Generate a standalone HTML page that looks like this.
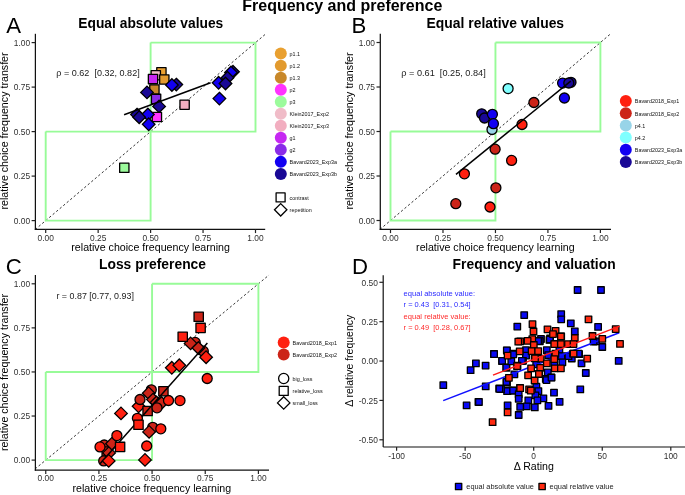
<!DOCTYPE html>
<html><head><meta charset="utf-8"><style>html,body{margin:0;padding:0;background:#fff;width:685px;height:495px;overflow:hidden}svg{display:block;will-change:transform}</style></head><body>
<svg width="685" height="495" viewBox="0 0 685 495" font-family='"Liberation Sans", sans-serif'>
<rect width="685" height="495" fill="#fff"/>
<text x="242.30" y="11.40" font-size="16.2" fill="#000" text-anchor="start" font-weight="bold" textLength="200.00" lengthAdjust="spacingAndGlyphs">Frequency and preference</text>
<line x1="35.21" y1="229.50" x2="265.99" y2="33.70" stroke="#333" stroke-width="1.0" stroke-dasharray="2.3 2.3"/>
<polyline points="45.70,131.60 45.70,220.60 150.60,220.60 150.60,131.60 45.70,131.60" stroke="#98FB98" stroke-width="1.9" fill="none"/>
<polyline points="150.60,42.60 255.50,42.60 255.50,131.60 150.60,131.60 150.60,42.60" stroke="#98FB98" stroke-width="1.9" fill="none"/>
<line x1="35.40" y1="33.80" x2="35.40" y2="229.90" stroke="#111111" stroke-width="1.25"/>
<line x1="34.80" y1="229.30" x2="265.20" y2="229.30" stroke="#111111" stroke-width="1.25"/>
<line x1="31.60" y1="220.60" x2="35.40" y2="220.60" stroke="#222222" stroke-width="1.2"/>
<text x="30.10" y="223.90" font-size="8.4" fill="#303030" text-anchor="end">0.00</text>
<line x1="45.70" y1="229.30" x2="45.70" y2="233.10" stroke="#222222" stroke-width="1.2"/>
<text x="45.70" y="240.60" font-size="8.4" fill="#303030" text-anchor="middle">0.00</text>
<line x1="31.60" y1="176.10" x2="35.40" y2="176.10" stroke="#222222" stroke-width="1.2"/>
<text x="30.10" y="179.40" font-size="8.4" fill="#303030" text-anchor="end">0.25</text>
<line x1="98.15" y1="229.30" x2="98.15" y2="233.10" stroke="#222222" stroke-width="1.2"/>
<text x="98.15" y="240.60" font-size="8.4" fill="#303030" text-anchor="middle">0.25</text>
<line x1="31.60" y1="131.60" x2="35.40" y2="131.60" stroke="#222222" stroke-width="1.2"/>
<text x="30.10" y="134.90" font-size="8.4" fill="#303030" text-anchor="end">0.50</text>
<line x1="150.60" y1="229.30" x2="150.60" y2="233.10" stroke="#222222" stroke-width="1.2"/>
<text x="150.60" y="240.60" font-size="8.4" fill="#303030" text-anchor="middle">0.50</text>
<line x1="31.60" y1="87.10" x2="35.40" y2="87.10" stroke="#222222" stroke-width="1.2"/>
<text x="30.10" y="90.40" font-size="8.4" fill="#303030" text-anchor="end">0.75</text>
<line x1="203.05" y1="229.30" x2="203.05" y2="233.10" stroke="#222222" stroke-width="1.2"/>
<text x="203.05" y="240.60" font-size="8.4" fill="#303030" text-anchor="middle">0.75</text>
<line x1="31.60" y1="42.60" x2="35.40" y2="42.60" stroke="#222222" stroke-width="1.2"/>
<text x="30.10" y="45.90" font-size="8.4" fill="#303030" text-anchor="end">1.00</text>
<line x1="255.50" y1="229.30" x2="255.50" y2="233.10" stroke="#222222" stroke-width="1.2"/>
<text x="255.50" y="240.60" font-size="8.4" fill="#303030" text-anchor="middle">1.00</text>
<text x="78.30" y="28.00" font-size="14.4" fill="#000" text-anchor="start" font-weight="bold" textLength="145.00" lengthAdjust="spacingAndGlyphs">Equal absolute values</text>
<text x="6.30" y="32.90" font-size="22.2" fill="#000" text-anchor="start">A</text>
<text x="150.60" y="251.30" font-size="10.6" fill="#000" text-anchor="middle" textLength="158.60" lengthAdjust="spacingAndGlyphs">relative choice frequency learning</text>
<text x="7.90" y="131.00" font-size="10.6" fill="#000" text-anchor="middle" textLength="157.20" lengthAdjust="spacingAndGlyphs" transform="rotate(-90 7.90 131.00)">relative choice frequency transfer</text>
<rect x="119.65" y="163.15" width="9.30" height="9.30" fill="#9CFB9C" stroke="#000" stroke-width="1.3" stroke-linejoin="round"/>
<rect x="156.75" y="67.65" width="9.30" height="9.30" fill="#E9A030" stroke="#000" stroke-width="1.3" stroke-linejoin="round"/>
<rect x="151.15" y="70.55" width="9.30" height="9.30" fill="#F0BCC8" stroke="#000" stroke-width="1.3" stroke-linejoin="round"/>
<rect x="159.65" y="74.85" width="9.30" height="9.30" fill="#E29A2E" stroke="#000" stroke-width="1.3" stroke-linejoin="round"/>
<rect x="148.35" y="74.45" width="9.30" height="9.30" fill="#C628F2" stroke="#000" stroke-width="1.3" stroke-linejoin="round"/>
<rect x="149.75" y="84.85" width="9.30" height="9.30" fill="#C8882A" stroke="#000" stroke-width="1.3" stroke-linejoin="round"/>
<polygon points="147.00,86.10 153.30,92.40 147.00,98.70 140.70,92.40" fill="#190896" stroke="#000" stroke-width="1.3" stroke-linejoin="miter"/>
<polygon points="176.30,78.30 182.60,84.60 176.30,90.90 170.00,84.60" fill="#190896" stroke="#000" stroke-width="1.3" stroke-linejoin="miter"/>
<polygon points="171.90,78.70 178.20,85.00 171.90,91.30 165.60,85.00" fill="#1200F2" stroke="#000" stroke-width="1.3" stroke-linejoin="miter"/>
<rect x="151.45" y="94.25" width="9.30" height="9.30" fill="#8A2BE8" stroke="#000" stroke-width="1.3" stroke-linejoin="round"/>
<polygon points="159.10,100.10 165.40,106.40 159.10,112.70 152.80,106.40" fill="#190896" stroke="#000" stroke-width="1.3" stroke-linejoin="miter"/>
<rect x="179.95" y="100.05" width="9.30" height="9.30" fill="#F2AEC0" stroke="#000" stroke-width="1.3" stroke-linejoin="round"/>
<rect x="152.25" y="112.35" width="9.30" height="9.30" fill="#FF33FF" stroke="#000" stroke-width="1.3" stroke-linejoin="round"/>
<polygon points="137.00,108.30 143.30,114.60 137.00,120.90 130.70,114.60" fill="#190896" stroke="#000" stroke-width="1.3" stroke-linejoin="miter"/>
<polygon points="147.90,108.20 154.20,114.50 147.90,120.80 141.60,114.50" fill="#1200F2" stroke="#000" stroke-width="1.3" stroke-linejoin="miter"/>
<polygon points="139.20,110.90 145.50,117.20 139.20,123.50 132.90,117.20" fill="#190896" stroke="#000" stroke-width="1.3" stroke-linejoin="miter"/>
<polygon points="148.70,118.00 155.00,124.30 148.70,130.60 142.40,124.30" fill="#1200F2" stroke="#000" stroke-width="1.3" stroke-linejoin="miter"/>
<polygon points="233.00,65.50 239.30,71.80 233.00,78.10 226.70,71.80" fill="#190896" stroke="#000" stroke-width="1.3" stroke-linejoin="miter"/>
<polygon points="231.00,66.20 237.30,72.50 231.00,78.80 224.70,72.50" fill="#1200F2" stroke="#000" stroke-width="1.3" stroke-linejoin="miter"/>
<polygon points="227.50,71.50 233.80,77.80 227.50,84.10 221.20,77.80" fill="#190896" stroke="#000" stroke-width="1.3" stroke-linejoin="miter"/>
<polygon points="218.60,76.50 224.90,82.80 218.60,89.10 212.30,82.80" fill="#1200F2" stroke="#000" stroke-width="1.3" stroke-linejoin="miter"/>
<polygon points="225.50,77.20 231.80,83.50 225.50,89.80 219.20,83.50" fill="#190896" stroke="#000" stroke-width="1.3" stroke-linejoin="miter"/>
<polygon points="219.40,92.30 225.70,98.60 219.40,104.90 213.10,98.60" fill="#1200F2" stroke="#000" stroke-width="1.3" stroke-linejoin="miter"/>
<line x1="124.10" y1="114.70" x2="210.60" y2="82.80" stroke="#000" stroke-width="1.5"/>
<text x="56.30" y="76.00" font-size="8.6" fill="#1a1a1a" text-anchor="start" textLength="83.40" lengthAdjust="spacingAndGlyphs">ρ = 0.62  [0.32, 0.82]</text>
<circle cx="280.8" cy="53.60" r="6.0" fill="#E9A030"/>
<text x="289.60" y="56.00" font-size="6.0" fill="#111" text-anchor="start" textLength="10.51" lengthAdjust="spacingAndGlyphs">p1.1</text>
<circle cx="280.8" cy="65.63" r="6.0" fill="#E29A2E"/>
<text x="289.60" y="68.03" font-size="6.0" fill="#111" text-anchor="start" textLength="10.51" lengthAdjust="spacingAndGlyphs">p1.2</text>
<circle cx="280.8" cy="77.66" r="6.0" fill="#C8882A"/>
<text x="289.60" y="80.06" font-size="6.0" fill="#111" text-anchor="start" textLength="10.51" lengthAdjust="spacingAndGlyphs">p1.3</text>
<circle cx="280.8" cy="89.69" r="6.0" fill="#FF33FF"/>
<text x="289.60" y="92.09" font-size="6.0" fill="#111" text-anchor="start" textLength="6.01" lengthAdjust="spacingAndGlyphs">p2</text>
<circle cx="280.8" cy="101.72" r="6.0" fill="#9CFB9C"/>
<text x="289.60" y="104.12" font-size="6.0" fill="#111" text-anchor="start" textLength="6.01" lengthAdjust="spacingAndGlyphs">p3</text>
<circle cx="280.8" cy="113.75" r="6.0" fill="#F0BCC8"/>
<text x="289.60" y="116.15" font-size="6.0" fill="#111" text-anchor="start" textLength="39.33" lengthAdjust="spacingAndGlyphs">Klein2017_Exp2</text>
<circle cx="280.8" cy="125.78" r="6.0" fill="#F2AEC0"/>
<text x="289.60" y="128.18" font-size="6.0" fill="#111" text-anchor="start" textLength="39.33" lengthAdjust="spacingAndGlyphs">Klein2017_Exp3</text>
<circle cx="280.8" cy="137.81" r="6.0" fill="#C628F2"/>
<text x="289.60" y="140.21" font-size="6.0" fill="#111" text-anchor="start" textLength="6.01" lengthAdjust="spacingAndGlyphs">g1</text>
<circle cx="280.8" cy="149.84" r="6.0" fill="#8A2BE8"/>
<text x="289.60" y="152.24" font-size="6.0" fill="#111" text-anchor="start" textLength="6.01" lengthAdjust="spacingAndGlyphs">g2</text>
<circle cx="280.8" cy="161.87" r="6.0" fill="#1200F2"/>
<text x="289.60" y="164.27" font-size="6.0" fill="#111" text-anchor="start" textLength="47.44" lengthAdjust="spacingAndGlyphs">Bavard2023_Exp3a</text>
<circle cx="280.8" cy="173.90" r="6.0" fill="#190896"/>
<text x="289.60" y="176.30" font-size="6.0" fill="#111" text-anchor="start" textLength="47.44" lengthAdjust="spacingAndGlyphs">Bavard2023_Exp3b</text>
<rect x="276.10" y="192.90" width="9.00" height="9.00" fill="#fff" stroke="#000" stroke-width="1.3" stroke-linejoin="round"/>
<polygon points="280.70,203.60 286.90,209.80 280.70,216.00 274.50,209.80" fill="#fff" stroke="#000" stroke-width="1.3" stroke-linejoin="miter"/>
<text x="289.60" y="199.80" font-size="6.0" fill="#111" text-anchor="start" textLength="19.21" lengthAdjust="spacingAndGlyphs">contrast</text>
<text x="289.60" y="212.00" font-size="6.0" fill="#111" text-anchor="start" textLength="22.21" lengthAdjust="spacingAndGlyphs">repetition</text>
<line x1="380.00" y1="229.40" x2="610.89" y2="33.60" stroke="#333" stroke-width="1.0" stroke-dasharray="2.3 2.3"/>
<polyline points="390.50,131.50 390.50,220.50 495.45,220.50 495.45,131.50 390.50,131.50" stroke="#98FB98" stroke-width="1.9" fill="none"/>
<polyline points="495.45,42.50 600.40,42.50 600.40,131.50 495.45,131.50 495.45,42.50" stroke="#98FB98" stroke-width="1.9" fill="none"/>
<line x1="380.30" y1="33.80" x2="380.30" y2="229.90" stroke="#111111" stroke-width="1.25"/>
<line x1="379.70" y1="229.30" x2="611.00" y2="229.30" stroke="#111111" stroke-width="1.25"/>
<line x1="376.50" y1="220.50" x2="380.30" y2="220.50" stroke="#222222" stroke-width="1.2"/>
<text x="375.00" y="223.80" font-size="8.4" fill="#303030" text-anchor="end">0.00</text>
<line x1="390.50" y1="229.30" x2="390.50" y2="233.10" stroke="#222222" stroke-width="1.2"/>
<text x="390.50" y="240.60" font-size="8.4" fill="#303030" text-anchor="middle">0.00</text>
<line x1="376.50" y1="176.00" x2="380.30" y2="176.00" stroke="#222222" stroke-width="1.2"/>
<text x="375.00" y="179.30" font-size="8.4" fill="#303030" text-anchor="end">0.25</text>
<line x1="442.98" y1="229.30" x2="442.98" y2="233.10" stroke="#222222" stroke-width="1.2"/>
<text x="442.98" y="240.60" font-size="8.4" fill="#303030" text-anchor="middle">0.25</text>
<line x1="376.50" y1="131.50" x2="380.30" y2="131.50" stroke="#222222" stroke-width="1.2"/>
<text x="375.00" y="134.80" font-size="8.4" fill="#303030" text-anchor="end">0.50</text>
<line x1="495.45" y1="229.30" x2="495.45" y2="233.10" stroke="#222222" stroke-width="1.2"/>
<text x="495.45" y="240.60" font-size="8.4" fill="#303030" text-anchor="middle">0.50</text>
<line x1="376.50" y1="87.00" x2="380.30" y2="87.00" stroke="#222222" stroke-width="1.2"/>
<text x="375.00" y="90.30" font-size="8.4" fill="#303030" text-anchor="end">0.75</text>
<line x1="547.92" y1="229.30" x2="547.92" y2="233.10" stroke="#222222" stroke-width="1.2"/>
<text x="547.92" y="240.60" font-size="8.4" fill="#303030" text-anchor="middle">0.75</text>
<line x1="376.50" y1="42.50" x2="380.30" y2="42.50" stroke="#222222" stroke-width="1.2"/>
<text x="375.00" y="45.80" font-size="8.4" fill="#303030" text-anchor="end">1.00</text>
<line x1="600.40" y1="229.30" x2="600.40" y2="233.10" stroke="#222222" stroke-width="1.2"/>
<text x="600.40" y="240.60" font-size="8.4" fill="#303030" text-anchor="middle">1.00</text>
<text x="426.60" y="28.00" font-size="14.4" fill="#000" text-anchor="start" font-weight="bold" textLength="137.50" lengthAdjust="spacingAndGlyphs">Equal relative values</text>
<text x="351.50" y="32.90" font-size="22.2" fill="#000" text-anchor="start">B</text>
<text x="495.40" y="251.30" font-size="10.6" fill="#000" text-anchor="middle" textLength="158.60" lengthAdjust="spacingAndGlyphs">relative choice frequency learning</text>
<text x="352.90" y="131.00" font-size="10.6" fill="#000" text-anchor="middle" textLength="157.20" lengthAdjust="spacingAndGlyphs" transform="rotate(-90 352.90 131.00)">relative choice frequency transfer</text>
<circle cx="492.00" cy="129.50" r="5.00" fill="#98D4E8" stroke="#000" stroke-width="1.3"/>
<circle cx="508.10" cy="88.60" r="5.00" fill="#80FFFF" stroke="#000" stroke-width="1.3"/>
<circle cx="481.70" cy="113.80" r="5.00" fill="#190896" stroke="#000" stroke-width="1.3"/>
<circle cx="484.50" cy="118.00" r="5.00" fill="#190896" stroke="#000" stroke-width="1.3"/>
<circle cx="492.40" cy="114.30" r="5.00" fill="#1200F2" stroke="#000" stroke-width="1.3"/>
<circle cx="493.40" cy="123.70" r="5.00" fill="#1200F2" stroke="#000" stroke-width="1.3"/>
<circle cx="455.80" cy="203.70" r="5.00" fill="#CC2418" stroke="#000" stroke-width="1.3"/>
<circle cx="464.40" cy="173.80" r="5.00" fill="#FF2010" stroke="#000" stroke-width="1.3"/>
<circle cx="490.00" cy="207.00" r="5.00" fill="#FF2010" stroke="#000" stroke-width="1.3"/>
<circle cx="495.10" cy="149.20" r="5.00" fill="#CC2418" stroke="#000" stroke-width="1.3"/>
<circle cx="495.90" cy="187.80" r="5.00" fill="#CC2418" stroke="#000" stroke-width="1.3"/>
<circle cx="511.60" cy="160.40" r="5.00" fill="#FF2010" stroke="#000" stroke-width="1.3"/>
<circle cx="522.00" cy="124.50" r="5.00" fill="#FF2010" stroke="#000" stroke-width="1.3"/>
<circle cx="533.90" cy="102.50" r="5.00" fill="#CC2418" stroke="#000" stroke-width="1.3"/>
<circle cx="562.60" cy="83.10" r="5.00" fill="#1200F2" stroke="#000" stroke-width="1.3"/>
<circle cx="571.00" cy="82.30" r="5.00" fill="#190896" stroke="#000" stroke-width="1.3"/>
<circle cx="568.80" cy="83.00" r="5.00" fill="#190896" stroke="#000" stroke-width="1.3"/>
<circle cx="564.40" cy="98.00" r="5.00" fill="#1200F2" stroke="#000" stroke-width="1.3"/>
<line x1="456.00" y1="174.30" x2="570.70" y2="81.20" stroke="#000" stroke-width="1.5"/>
<text x="401.30" y="76.00" font-size="8.6" fill="#1a1a1a" text-anchor="start" textLength="84.40" lengthAdjust="spacingAndGlyphs">ρ = 0.61  [0.25, 0.84]</text>
<circle cx="625.8" cy="101.00" r="6.0" fill="#FF2010"/>
<text x="634.80" y="103.40" font-size="6.0" fill="#111" text-anchor="start" textLength="44.43" lengthAdjust="spacingAndGlyphs">Bavard2018_Exp1</text>
<circle cx="625.8" cy="113.20" r="6.0" fill="#CC2418"/>
<text x="634.80" y="115.60" font-size="6.0" fill="#111" text-anchor="start" textLength="44.43" lengthAdjust="spacingAndGlyphs">Bavard2018_Exp2</text>
<circle cx="625.8" cy="125.40" r="6.0" fill="#98D4E8"/>
<text x="634.80" y="127.80" font-size="6.0" fill="#111" text-anchor="start" textLength="10.51" lengthAdjust="spacingAndGlyphs">p4.1</text>
<circle cx="625.8" cy="137.60" r="6.0" fill="#80FFFF"/>
<text x="634.80" y="140.00" font-size="6.0" fill="#111" text-anchor="start" textLength="10.51" lengthAdjust="spacingAndGlyphs">p4.2</text>
<circle cx="625.8" cy="149.80" r="6.0" fill="#1200F2"/>
<text x="634.80" y="152.20" font-size="6.0" fill="#111" text-anchor="start" textLength="47.44" lengthAdjust="spacingAndGlyphs">Bavard2023_Exp3a</text>
<circle cx="625.8" cy="162.00" r="6.0" fill="#190896"/>
<text x="634.80" y="164.40" font-size="6.0" fill="#111" text-anchor="start" textLength="47.44" lengthAdjust="spacingAndGlyphs">Bavard2023_Exp3b</text>
<line x1="35.12" y1="468.92" x2="269.03" y2="274.99" stroke="#333" stroke-width="1.0" stroke-dasharray="2.3 2.3"/>
<polyline points="45.75,371.95 45.75,460.10 152.07,460.10 152.07,371.95 45.75,371.95" stroke="#98FB98" stroke-width="1.9" fill="none"/>
<polyline points="152.07,283.80 258.40,283.80 258.40,371.95 152.07,371.95 152.07,283.80" stroke="#98FB98" stroke-width="1.9" fill="none"/>
<line x1="35.40" y1="275.00" x2="35.40" y2="470.70" stroke="#111111" stroke-width="1.25"/>
<line x1="34.80" y1="470.10" x2="269.00" y2="470.10" stroke="#111111" stroke-width="1.25"/>
<line x1="31.60" y1="460.10" x2="35.40" y2="460.10" stroke="#222222" stroke-width="1.2"/>
<text x="30.10" y="463.40" font-size="8.4" fill="#303030" text-anchor="end">0.00</text>
<line x1="45.75" y1="470.10" x2="45.75" y2="473.90" stroke="#222222" stroke-width="1.2"/>
<text x="45.75" y="481.40" font-size="8.4" fill="#303030" text-anchor="middle">0.00</text>
<line x1="31.60" y1="416.03" x2="35.40" y2="416.03" stroke="#222222" stroke-width="1.2"/>
<text x="30.10" y="419.33" font-size="8.4" fill="#303030" text-anchor="end">0.25</text>
<line x1="98.91" y1="470.10" x2="98.91" y2="473.90" stroke="#222222" stroke-width="1.2"/>
<text x="98.91" y="481.40" font-size="8.4" fill="#303030" text-anchor="middle">0.25</text>
<line x1="31.60" y1="371.95" x2="35.40" y2="371.95" stroke="#222222" stroke-width="1.2"/>
<text x="30.10" y="375.25" font-size="8.4" fill="#303030" text-anchor="end">0.50</text>
<line x1="152.07" y1="470.10" x2="152.07" y2="473.90" stroke="#222222" stroke-width="1.2"/>
<text x="152.07" y="481.40" font-size="8.4" fill="#303030" text-anchor="middle">0.50</text>
<line x1="31.60" y1="327.88" x2="35.40" y2="327.88" stroke="#222222" stroke-width="1.2"/>
<text x="30.10" y="331.18" font-size="8.4" fill="#303030" text-anchor="end">0.75</text>
<line x1="205.24" y1="470.10" x2="205.24" y2="473.90" stroke="#222222" stroke-width="1.2"/>
<text x="205.24" y="481.40" font-size="8.4" fill="#303030" text-anchor="middle">0.75</text>
<line x1="31.60" y1="283.80" x2="35.40" y2="283.80" stroke="#222222" stroke-width="1.2"/>
<text x="30.10" y="287.10" font-size="8.4" fill="#303030" text-anchor="end">1.00</text>
<line x1="258.40" y1="470.10" x2="258.40" y2="473.90" stroke="#222222" stroke-width="1.2"/>
<text x="258.40" y="481.40" font-size="8.4" fill="#303030" text-anchor="middle">1.00</text>
<text x="99.00" y="268.70" font-size="14.4" fill="#000" text-anchor="start" font-weight="bold" textLength="107.00" lengthAdjust="spacingAndGlyphs">Loss preference</text>
<text x="5.80" y="273.60" font-size="22.2" fill="#000" text-anchor="start">C</text>
<text x="151.80" y="491.50" font-size="10.6" fill="#000" text-anchor="middle" textLength="158.60" lengthAdjust="spacingAndGlyphs">relative choice frequency learning</text>
<text x="7.90" y="372.50" font-size="10.6" fill="#000" text-anchor="middle" textLength="157.20" lengthAdjust="spacingAndGlyphs" transform="rotate(-90 7.90 372.50)">relative choice frequency transfer</text>
<polygon points="138.60,400.00 144.90,406.30 138.60,412.60 132.30,406.30" fill="#FF2010" stroke="#000" stroke-width="1.3" stroke-linejoin="miter"/>
<circle cx="104.20" cy="445.00" r="5.00" fill="#CC2418" stroke="#000" stroke-width="1.3"/>
<rect x="102.05" y="446.85" width="9.30" height="9.30" fill="#CC2418" stroke="#000" stroke-width="1.3" stroke-linejoin="round"/>
<polygon points="109.10,446.60 115.40,452.90 109.10,459.20 102.80,452.90" fill="#CC2418" stroke="#000" stroke-width="1.3" stroke-linejoin="miter"/>
<circle cx="103.70" cy="460.90" r="5.00" fill="#CC2418" stroke="#000" stroke-width="1.3"/>
<polygon points="112.00,437.40 118.30,443.70 112.00,450.00 105.70,443.70" fill="#CC2418" stroke="#000" stroke-width="1.3" stroke-linejoin="miter"/>
<circle cx="140.00" cy="399.50" r="5.00" fill="#CC2418" stroke="#000" stroke-width="1.3"/>
<rect x="142.95" y="406.35" width="9.30" height="9.30" fill="#CC2418" stroke="#000" stroke-width="1.3" stroke-linejoin="round"/>
<circle cx="151.30" cy="389.80" r="5.00" fill="#CC2418" stroke="#000" stroke-width="1.3"/>
<polygon points="148.70,386.90 155.00,393.20 148.70,399.50 142.40,393.20" fill="#CC2418" stroke="#000" stroke-width="1.3" stroke-linejoin="miter"/>
<polygon points="153.00,393.30 159.30,399.60 153.00,405.90 146.70,399.60" fill="#CC2418" stroke="#000" stroke-width="1.3" stroke-linejoin="miter"/>
<polygon points="156.50,396.20 162.80,402.50 156.50,408.80 150.20,402.50" fill="#CC2418" stroke="#000" stroke-width="1.3" stroke-linejoin="miter"/>
<rect x="158.75" y="386.55" width="9.30" height="9.30" fill="#CC2418" stroke="#000" stroke-width="1.3" stroke-linejoin="round"/>
<polygon points="161.50,396.70 167.80,403.00 161.50,409.30 155.20,403.00" fill="#CC2418" stroke="#000" stroke-width="1.3" stroke-linejoin="miter"/>
<circle cx="157.00" cy="407.80" r="5.00" fill="#CC2418" stroke="#000" stroke-width="1.3"/>
<circle cx="152.70" cy="427.30" r="5.00" fill="#CC2418" stroke="#000" stroke-width="1.3"/>
<polygon points="149.10,425.60 155.40,431.90 149.10,438.20 142.80,431.90" fill="#CC2418" stroke="#000" stroke-width="1.3" stroke-linejoin="miter"/>
<rect x="194.05" y="312.15" width="9.30" height="9.30" fill="#CC2418" stroke="#000" stroke-width="1.3" stroke-linejoin="round"/>
<circle cx="195.20" cy="342.40" r="5.00" fill="#CC2418" stroke="#000" stroke-width="1.3"/>
<polygon points="190.60,337.10 196.90,343.40 190.60,349.70 184.30,343.40" fill="#CC2418" stroke="#000" stroke-width="1.3" stroke-linejoin="miter"/>
<circle cx="203.30" cy="351.20" r="5.00" fill="#CC2418" stroke="#000" stroke-width="1.3"/>
<polygon points="198.40,341.70 204.70,348.00 198.40,354.30 192.10,348.00" fill="#CC2418" stroke="#000" stroke-width="1.3" stroke-linejoin="miter"/>
<line x1="100.00" y1="463.70" x2="207.40" y2="343.10" stroke="#000" stroke-width="1.5"/>
<circle cx="100.00" cy="446.90" r="5.00" fill="#FF2010" stroke="#000" stroke-width="1.3"/>
<polygon points="108.70,454.60 115.00,460.90 108.70,467.20 102.40,460.90" fill="#FF2010" stroke="#000" stroke-width="1.3" stroke-linejoin="miter"/>
<circle cx="116.90" cy="435.60" r="5.00" fill="#FF2010" stroke="#000" stroke-width="1.3"/>
<rect x="115.45" y="442.25" width="9.30" height="9.30" fill="#FF2010" stroke="#000" stroke-width="1.3" stroke-linejoin="round"/>
<polygon points="121.00,407.10 127.30,413.40 121.00,419.70 114.70,413.40" fill="#FF2010" stroke="#000" stroke-width="1.3" stroke-linejoin="miter"/>
<circle cx="137.40" cy="418.30" r="5.00" fill="#FF2010" stroke="#000" stroke-width="1.3"/>
<rect x="133.85" y="420.15" width="9.30" height="9.30" fill="#FF2010" stroke="#000" stroke-width="1.3" stroke-linejoin="round"/>
<circle cx="168.50" cy="400.50" r="5.00" fill="#FF2010" stroke="#000" stroke-width="1.3"/>
<circle cx="180.00" cy="400.60" r="5.00" fill="#FF2010" stroke="#000" stroke-width="1.3"/>
<circle cx="160.80" cy="428.80" r="5.00" fill="#FF2010" stroke="#000" stroke-width="1.3"/>
<circle cx="146.70" cy="446.00" r="5.00" fill="#FF2010" stroke="#000" stroke-width="1.3"/>
<polygon points="145.00,453.60 151.30,459.90 145.00,466.20 138.70,459.90" fill="#FF2010" stroke="#000" stroke-width="1.3" stroke-linejoin="miter"/>
<polygon points="171.80,361.50 178.10,367.80 171.80,374.10 165.50,367.80" fill="#FF2010" stroke="#000" stroke-width="1.3" stroke-linejoin="miter"/>
<polygon points="179.30,359.00 185.60,365.30 179.30,371.60 173.00,365.30" fill="#FF2010" stroke="#000" stroke-width="1.3" stroke-linejoin="miter"/>
<rect x="195.95" y="323.25" width="9.30" height="9.30" fill="#FF2010" stroke="#000" stroke-width="1.3" stroke-linejoin="round"/>
<rect x="178.05" y="332.15" width="9.30" height="9.30" fill="#FF2010" stroke="#000" stroke-width="1.3" stroke-linejoin="round"/>
<polygon points="206.10,350.90 212.40,357.20 206.10,363.50 199.80,357.20" fill="#FF2010" stroke="#000" stroke-width="1.3" stroke-linejoin="miter"/>
<circle cx="207.20" cy="378.50" r="5.00" fill="#FF2010" stroke="#000" stroke-width="1.3"/>
<text x="56.40" y="299.20" font-size="8.6" fill="#1a1a1a" text-anchor="start" textLength="77.50" lengthAdjust="spacingAndGlyphs">r = 0.87 [0.77, 0.93]</text>
<circle cx="283.7" cy="342.60" r="6.0" fill="#FF2010"/>
<text x="292.60" y="345.00" font-size="6.0" fill="#111" text-anchor="start" textLength="44.43" lengthAdjust="spacingAndGlyphs">Bavard2018_Exp1</text>
<circle cx="283.7" cy="354.60" r="6.0" fill="#CC2418"/>
<text x="292.60" y="357.00" font-size="6.0" fill="#111" text-anchor="start" textLength="44.43" lengthAdjust="spacingAndGlyphs">Bavard2018_Exp2</text>
<circle cx="283.70" cy="378.50" r="5.10" fill="#fff" stroke="#000" stroke-width="1.3"/>
<rect x="279.20" y="386.40" width="9.00" height="9.00" fill="#fff" stroke="#000" stroke-width="1.3" stroke-linejoin="round"/>
<polygon points="283.70,396.70 289.90,402.90 283.70,409.10 277.50,402.90" fill="#fff" stroke="#000" stroke-width="1.3" stroke-linejoin="miter"/>
<text x="292.60" y="380.80" font-size="6.0" fill="#111" text-anchor="start" textLength="19.81" lengthAdjust="spacingAndGlyphs">big_loss</text>
<text x="292.60" y="393.10" font-size="6.0" fill="#111" text-anchor="start" textLength="30.01" lengthAdjust="spacingAndGlyphs">relative_loss</text>
<text x="292.60" y="405.10" font-size="6.0" fill="#111" text-anchor="start" textLength="25.21" lengthAdjust="spacingAndGlyphs">small_loss</text>
<line x1="383.20" y1="275.20" x2="383.20" y2="447.00" stroke="#111111" stroke-width="1.2"/>
<line x1="383.20" y1="447.00" x2="685.00" y2="447.00" stroke="#111111" stroke-width="1.2"/>
<line x1="379.40" y1="282.30" x2="383.20" y2="282.30" stroke="#222222" stroke-width="1.2"/>
<text x="377.90" y="285.60" font-size="8.4" fill="#303030" text-anchor="end">0.50</text>
<line x1="379.40" y1="321.68" x2="383.20" y2="321.68" stroke="#222222" stroke-width="1.2"/>
<text x="377.90" y="324.98" font-size="8.4" fill="#303030" text-anchor="end">0.25</text>
<line x1="379.40" y1="361.05" x2="383.20" y2="361.05" stroke="#222222" stroke-width="1.2"/>
<text x="377.90" y="364.35" font-size="8.4" fill="#303030" text-anchor="end">0.00</text>
<line x1="379.40" y1="400.43" x2="383.20" y2="400.43" stroke="#222222" stroke-width="1.2"/>
<text x="377.90" y="403.73" font-size="8.4" fill="#303030" text-anchor="end">-0.25</text>
<line x1="379.40" y1="439.80" x2="383.20" y2="439.80" stroke="#222222" stroke-width="1.2"/>
<text x="377.90" y="443.10" font-size="8.4" fill="#303030" text-anchor="end">-0.50</text>
<line x1="396.60" y1="447.00" x2="396.60" y2="450.80" stroke="#222222" stroke-width="1.2"/>
<text x="396.60" y="458.60" font-size="8.4" fill="#303030" text-anchor="middle">-100</text>
<line x1="465.15" y1="447.00" x2="465.15" y2="450.80" stroke="#222222" stroke-width="1.2"/>
<text x="465.15" y="458.60" font-size="8.4" fill="#303030" text-anchor="middle">-50</text>
<line x1="533.70" y1="447.00" x2="533.70" y2="450.80" stroke="#222222" stroke-width="1.2"/>
<text x="533.70" y="458.60" font-size="8.4" fill="#303030" text-anchor="middle">0</text>
<line x1="602.25" y1="447.00" x2="602.25" y2="450.80" stroke="#222222" stroke-width="1.2"/>
<text x="602.25" y="458.60" font-size="8.4" fill="#303030" text-anchor="middle">50</text>
<line x1="670.80" y1="447.00" x2="670.80" y2="450.80" stroke="#222222" stroke-width="1.2"/>
<text x="670.80" y="458.60" font-size="8.4" fill="#303030" text-anchor="middle">100</text>
<text x="533.80" y="469.60" font-size="10.6" fill="#000" text-anchor="middle">Δ Rating</text>
<text x="352.80" y="360.80" font-size="10.6" fill="#000" text-anchor="middle" textLength="92.00" lengthAdjust="spacingAndGlyphs" transform="rotate(-90 352.80 360.80)">Δ relative frequency</text>
<text x="352.00" y="273.60" font-size="22.2" fill="#000" text-anchor="start">D</text>
<text x="452.60" y="268.90" font-size="14.4" fill="#000" text-anchor="start" font-weight="bold" textLength="163.00" lengthAdjust="spacingAndGlyphs">Frequency and valuation</text>
<text x="403.60" y="296.20" font-size="6.9" fill="#2a2aff" text-anchor="start" textLength="71.40" lengthAdjust="spacingAndGlyphs">equal absolute value:</text>
<text x="403.60" y="307.30" font-size="6.9" fill="#2a2aff" text-anchor="start" textLength="67.10" lengthAdjust="spacingAndGlyphs">r = 0.43  [0.31, 0.54]</text>
<text x="403.60" y="319.10" font-size="6.9" fill="#ff2a2a" text-anchor="start" textLength="67.10" lengthAdjust="spacingAndGlyphs">equal relative value:</text>
<text x="403.60" y="330.30" font-size="6.9" fill="#ff2a2a" text-anchor="start" textLength="67.10" lengthAdjust="spacingAndGlyphs">r = 0.49  [0.28, 0.67]</text>
<rect x="574.35" y="286.75" width="6.50" height="6.50" fill="#0a0af5" stroke="#000" stroke-width="1.3" stroke-linejoin="round"/>
<rect x="597.75" y="286.75" width="6.50" height="6.50" fill="#0a0af5" stroke="#000" stroke-width="1.3" stroke-linejoin="round"/>
<rect x="520.95" y="311.85" width="6.50" height="6.50" fill="#0a0af5" stroke="#000" stroke-width="1.3" stroke-linejoin="round"/>
<rect x="514.05" y="323.35" width="6.50" height="6.50" fill="#0a0af5" stroke="#000" stroke-width="1.3" stroke-linejoin="round"/>
<rect x="557.95" y="310.95" width="6.50" height="6.50" fill="#0a0af5" stroke="#000" stroke-width="1.3" stroke-linejoin="round"/>
<rect x="557.95" y="316.05" width="6.50" height="6.50" fill="#0a0af5" stroke="#000" stroke-width="1.3" stroke-linejoin="round"/>
<rect x="567.55" y="320.05" width="6.50" height="6.50" fill="#0a0af5" stroke="#000" stroke-width="1.3" stroke-linejoin="round"/>
<rect x="594.85" y="323.65" width="6.50" height="6.50" fill="#0a0af5" stroke="#000" stroke-width="1.3" stroke-linejoin="round"/>
<rect x="571.55" y="328.15" width="6.50" height="6.50" fill="#0a0af5" stroke="#000" stroke-width="1.3" stroke-linejoin="round"/>
<rect x="546.85" y="335.25" width="6.50" height="6.50" fill="#0a0af5" stroke="#000" stroke-width="1.3" stroke-linejoin="round"/>
<rect x="537.75" y="335.75" width="6.50" height="6.50" fill="#0a0af5" stroke="#000" stroke-width="1.3" stroke-linejoin="round"/>
<rect x="536.35" y="338.15" width="6.50" height="6.50" fill="#0a0af5" stroke="#000" stroke-width="1.3" stroke-linejoin="round"/>
<rect x="546.25" y="336.65" width="6.50" height="6.50" fill="#0a0af5" stroke="#000" stroke-width="1.3" stroke-linejoin="round"/>
<rect x="599.05" y="343.75" width="6.50" height="6.50" fill="#0a0af5" stroke="#000" stroke-width="1.3" stroke-linejoin="round"/>
<rect x="592.75" y="338.15" width="6.50" height="6.50" fill="#0a0af5" stroke="#000" stroke-width="1.3" stroke-linejoin="round"/>
<rect x="590.35" y="338.25" width="6.50" height="6.50" fill="#0a0af5" stroke="#000" stroke-width="1.3" stroke-linejoin="round"/>
<rect x="575.85" y="350.95" width="6.50" height="6.50" fill="#0a0af5" stroke="#000" stroke-width="1.3" stroke-linejoin="round"/>
<rect x="578.25" y="360.05" width="6.50" height="6.50" fill="#0a0af5" stroke="#000" stroke-width="1.3" stroke-linejoin="round"/>
<rect x="582.55" y="369.75" width="6.50" height="6.50" fill="#0a0af5" stroke="#000" stroke-width="1.3" stroke-linejoin="round"/>
<rect x="615.45" y="357.65" width="6.50" height="6.50" fill="#0a0af5" stroke="#000" stroke-width="1.3" stroke-linejoin="round"/>
<rect x="577.05" y="386.15" width="6.50" height="6.50" fill="#0a0af5" stroke="#000" stroke-width="1.3" stroke-linejoin="round"/>
<rect x="568.55" y="355.25" width="6.50" height="6.50" fill="#0a0af5" stroke="#000" stroke-width="1.3" stroke-linejoin="round"/>
<rect x="440.05" y="381.95" width="6.50" height="6.50" fill="#0a0af5" stroke="#000" stroke-width="1.3" stroke-linejoin="round"/>
<rect x="467.35" y="366.95" width="6.50" height="6.50" fill="#0a0af5" stroke="#000" stroke-width="1.3" stroke-linejoin="round"/>
<rect x="472.65" y="360.15" width="6.50" height="6.50" fill="#0a0af5" stroke="#000" stroke-width="1.3" stroke-linejoin="round"/>
<rect x="463.35" y="402.15" width="6.50" height="6.50" fill="#0a0af5" stroke="#000" stroke-width="1.3" stroke-linejoin="round"/>
<rect x="475.15" y="398.65" width="6.50" height="6.50" fill="#0a0af5" stroke="#000" stroke-width="1.3" stroke-linejoin="round"/>
<rect x="482.35" y="362.35" width="6.50" height="6.50" fill="#0a0af5" stroke="#000" stroke-width="1.3" stroke-linejoin="round"/>
<rect x="490.75" y="350.75" width="6.50" height="6.50" fill="#0a0af5" stroke="#000" stroke-width="1.3" stroke-linejoin="round"/>
<rect x="503.65" y="347.35" width="6.50" height="6.50" fill="#0a0af5" stroke="#000" stroke-width="1.3" stroke-linejoin="round"/>
<rect x="498.85" y="357.75" width="6.50" height="6.50" fill="#0a0af5" stroke="#000" stroke-width="1.3" stroke-linejoin="round"/>
<rect x="509.65" y="350.35" width="6.50" height="6.50" fill="#0a0af5" stroke="#000" stroke-width="1.3" stroke-linejoin="round"/>
<rect x="522.85" y="351.85" width="6.50" height="6.50" fill="#0a0af5" stroke="#000" stroke-width="1.3" stroke-linejoin="round"/>
<rect x="503.15" y="364.45" width="6.50" height="6.50" fill="#0a0af5" stroke="#000" stroke-width="1.3" stroke-linejoin="round"/>
<rect x="503.65" y="379.15" width="6.50" height="6.50" fill="#0a0af5" stroke="#000" stroke-width="1.3" stroke-linejoin="round"/>
<rect x="482.45" y="383.15" width="6.50" height="6.50" fill="#0a0af5" stroke="#000" stroke-width="1.3" stroke-linejoin="round"/>
<rect x="496.05" y="385.15" width="6.50" height="6.50" fill="#0a0af5" stroke="#000" stroke-width="1.3" stroke-linejoin="round"/>
<rect x="504.65" y="387.25" width="6.50" height="6.50" fill="#0a0af5" stroke="#000" stroke-width="1.3" stroke-linejoin="round"/>
<rect x="509.15" y="387.25" width="6.50" height="6.50" fill="#0a0af5" stroke="#000" stroke-width="1.3" stroke-linejoin="round"/>
<rect x="511.15" y="371.05" width="6.50" height="6.50" fill="#0a0af5" stroke="#000" stroke-width="1.3" stroke-linejoin="round"/>
<rect x="536.45" y="337.75" width="6.50" height="6.50" fill="#0a0af5" stroke="#000" stroke-width="1.3" stroke-linejoin="round"/>
<rect x="546.55" y="336.25" width="6.50" height="6.50" fill="#0a0af5" stroke="#000" stroke-width="1.3" stroke-linejoin="round"/>
<rect x="522.75" y="346.95" width="6.50" height="6.50" fill="#0a0af5" stroke="#000" stroke-width="1.3" stroke-linejoin="round"/>
<rect x="543.55" y="346.95" width="6.50" height="6.50" fill="#0a0af5" stroke="#000" stroke-width="1.3" stroke-linejoin="round"/>
<rect x="556.15" y="346.35" width="6.50" height="6.50" fill="#0a0af5" stroke="#000" stroke-width="1.3" stroke-linejoin="round"/>
<rect x="522.75" y="352.45" width="6.50" height="6.50" fill="#0a0af5" stroke="#000" stroke-width="1.3" stroke-linejoin="round"/>
<rect x="558.15" y="352.95" width="6.50" height="6.50" fill="#0a0af5" stroke="#000" stroke-width="1.3" stroke-linejoin="round"/>
<rect x="565.25" y="352.95" width="6.50" height="6.50" fill="#0a0af5" stroke="#000" stroke-width="1.3" stroke-linejoin="round"/>
<rect x="575.35" y="350.45" width="6.50" height="6.50" fill="#0a0af5" stroke="#000" stroke-width="1.3" stroke-linejoin="round"/>
<rect x="545.05" y="351.95" width="6.50" height="6.50" fill="#0a0af5" stroke="#000" stroke-width="1.3" stroke-linejoin="round"/>
<rect x="551.05" y="360.55" width="6.50" height="6.50" fill="#0a0af5" stroke="#000" stroke-width="1.3" stroke-linejoin="round"/>
<rect x="559.15" y="359.05" width="6.50" height="6.50" fill="#0a0af5" stroke="#000" stroke-width="1.3" stroke-linejoin="round"/>
<rect x="532.95" y="361.05" width="6.50" height="6.50" fill="#0a0af5" stroke="#000" stroke-width="1.3" stroke-linejoin="round"/>
<rect x="519.75" y="357.55" width="6.50" height="6.50" fill="#0a0af5" stroke="#000" stroke-width="1.3" stroke-linejoin="round"/>
<rect x="544.55" y="369.15" width="6.50" height="6.50" fill="#0a0af5" stroke="#000" stroke-width="1.3" stroke-linejoin="round"/>
<rect x="548.05" y="374.15" width="6.50" height="6.50" fill="#0a0af5" stroke="#000" stroke-width="1.3" stroke-linejoin="round"/>
<rect x="542.55" y="375.65" width="6.50" height="6.50" fill="#0a0af5" stroke="#000" stroke-width="1.3" stroke-linejoin="round"/>
<rect x="503.35" y="378.85" width="6.50" height="6.50" fill="#0a0af5" stroke="#000" stroke-width="1.3" stroke-linejoin="round"/>
<rect x="543.25" y="376.85" width="6.50" height="6.50" fill="#0a0af5" stroke="#000" stroke-width="1.3" stroke-linejoin="round"/>
<rect x="548.25" y="374.35" width="6.50" height="6.50" fill="#0a0af5" stroke="#000" stroke-width="1.3" stroke-linejoin="round"/>
<rect x="503.85" y="387.95" width="6.50" height="6.50" fill="#0a0af5" stroke="#000" stroke-width="1.3" stroke-linejoin="round"/>
<rect x="509.85" y="387.45" width="6.50" height="6.50" fill="#0a0af5" stroke="#000" stroke-width="1.3" stroke-linejoin="round"/>
<rect x="533.15" y="383.45" width="6.50" height="6.50" fill="#0a0af5" stroke="#000" stroke-width="1.3" stroke-linejoin="round"/>
<rect x="535.15" y="387.95" width="6.50" height="6.50" fill="#0a0af5" stroke="#000" stroke-width="1.3" stroke-linejoin="round"/>
<rect x="515.45" y="390.95" width="6.50" height="6.50" fill="#0a0af5" stroke="#000" stroke-width="1.3" stroke-linejoin="round"/>
<rect x="550.75" y="389.45" width="6.50" height="6.50" fill="#0a0af5" stroke="#000" stroke-width="1.3" stroke-linejoin="round"/>
<rect x="515.45" y="395.55" width="6.50" height="6.50" fill="#0a0af5" stroke="#000" stroke-width="1.3" stroke-linejoin="round"/>
<rect x="525.05" y="397.05" width="6.50" height="6.50" fill="#0a0af5" stroke="#000" stroke-width="1.3" stroke-linejoin="round"/>
<rect x="532.15" y="392.05" width="6.50" height="6.50" fill="#0a0af5" stroke="#000" stroke-width="1.3" stroke-linejoin="round"/>
<rect x="540.15" y="395.05" width="6.50" height="6.50" fill="#0a0af5" stroke="#000" stroke-width="1.3" stroke-linejoin="round"/>
<rect x="534.15" y="397.05" width="6.50" height="6.50" fill="#0a0af5" stroke="#000" stroke-width="1.3" stroke-linejoin="round"/>
<rect x="504.35" y="402.15" width="6.50" height="6.50" fill="#0a0af5" stroke="#000" stroke-width="1.3" stroke-linejoin="round"/>
<rect x="516.95" y="403.65" width="6.50" height="6.50" fill="#0a0af5" stroke="#000" stroke-width="1.3" stroke-linejoin="round"/>
<rect x="523.55" y="403.15" width="6.50" height="6.50" fill="#0a0af5" stroke="#000" stroke-width="1.3" stroke-linejoin="round"/>
<rect x="531.55" y="404.15" width="6.50" height="6.50" fill="#0a0af5" stroke="#000" stroke-width="1.3" stroke-linejoin="round"/>
<rect x="545.25" y="402.65" width="6.50" height="6.50" fill="#0a0af5" stroke="#000" stroke-width="1.3" stroke-linejoin="round"/>
<rect x="515.45" y="411.75" width="6.50" height="6.50" fill="#0a0af5" stroke="#000" stroke-width="1.3" stroke-linejoin="round"/>
<rect x="497.75" y="385.95" width="6.50" height="6.50" fill="#0a0af5" stroke="#000" stroke-width="1.3" stroke-linejoin="round"/>
<rect x="556.35" y="398.55" width="6.50" height="6.50" fill="#0a0af5" stroke="#000" stroke-width="1.3" stroke-linejoin="round"/>
<rect x="496.15" y="385.65" width="6.50" height="6.50" fill="#0a0af5" stroke="#000" stroke-width="1.3" stroke-linejoin="round"/>
<rect x="475.65" y="398.75" width="6.50" height="6.50" fill="#0a0af5" stroke="#000" stroke-width="1.3" stroke-linejoin="round"/>
<rect x="503.25" y="378.75" width="6.50" height="6.50" fill="#0a0af5" stroke="#000" stroke-width="1.3" stroke-linejoin="round"/>
<rect x="503.55" y="347.05" width="6.50" height="6.50" fill="#0a0af5" stroke="#000" stroke-width="1.3" stroke-linejoin="round"/>
<rect x="490.85" y="350.85" width="6.50" height="6.50" fill="#0a0af5" stroke="#000" stroke-width="1.3" stroke-linejoin="round"/>
<rect x="498.95" y="357.65" width="6.50" height="6.50" fill="#0a0af5" stroke="#000" stroke-width="1.3" stroke-linejoin="round"/>
<rect x="510.05" y="351.05" width="6.50" height="6.50" fill="#0a0af5" stroke="#000" stroke-width="1.3" stroke-linejoin="round"/>
<rect x="503.05" y="364.25" width="6.50" height="6.50" fill="#0a0af5" stroke="#000" stroke-width="1.3" stroke-linejoin="round"/>
<rect x="508.05" y="358.15" width="6.50" height="6.50" fill="#0a0af5" stroke="#000" stroke-width="1.3" stroke-linejoin="round"/>
<rect x="518.65" y="357.65" width="6.50" height="6.50" fill="#0a0af5" stroke="#000" stroke-width="1.3" stroke-linejoin="round"/>
<rect x="534.85" y="337.95" width="6.50" height="6.50" fill="#0a0af5" stroke="#000" stroke-width="1.3" stroke-linejoin="round"/>
<line x1="443.20" y1="400.60" x2="619.20" y2="332.80" stroke="#1010ff" stroke-width="1.5"/>
<rect x="529.25" y="320.95" width="6.50" height="6.50" fill="#ff2a10" stroke="#000" stroke-width="1.3" stroke-linejoin="round"/>
<rect x="530.25" y="328.25" width="6.50" height="6.50" fill="#ff2a10" stroke="#000" stroke-width="1.3" stroke-linejoin="round"/>
<rect x="544.25" y="326.05" width="6.50" height="6.50" fill="#ff2a10" stroke="#000" stroke-width="1.3" stroke-linejoin="round"/>
<rect x="552.35" y="327.55" width="6.50" height="6.50" fill="#ff2a10" stroke="#000" stroke-width="1.3" stroke-linejoin="round"/>
<rect x="549.75" y="330.85" width="6.50" height="6.50" fill="#ff2a10" stroke="#000" stroke-width="1.3" stroke-linejoin="round"/>
<rect x="529.05" y="335.95" width="6.50" height="6.50" fill="#ff2a10" stroke="#000" stroke-width="1.3" stroke-linejoin="round"/>
<rect x="516.95" y="338.15" width="6.50" height="6.50" fill="#ff2a10" stroke="#000" stroke-width="1.3" stroke-linejoin="round"/>
<rect x="524.35" y="337.65" width="6.50" height="6.50" fill="#ff2a10" stroke="#000" stroke-width="1.3" stroke-linejoin="round"/>
<rect x="530.55" y="341.75" width="6.50" height="6.50" fill="#ff2a10" stroke="#000" stroke-width="1.3" stroke-linejoin="round"/>
<rect x="551.25" y="340.65" width="6.50" height="6.50" fill="#ff2a10" stroke="#000" stroke-width="1.3" stroke-linejoin="round"/>
<rect x="585.25" y="316.05" width="6.50" height="6.50" fill="#ff2a10" stroke="#000" stroke-width="1.3" stroke-linejoin="round"/>
<rect x="557.95" y="333.25" width="6.50" height="6.50" fill="#ff2a10" stroke="#000" stroke-width="1.3" stroke-linejoin="round"/>
<rect x="571.55" y="334.75" width="6.50" height="6.50" fill="#ff2a10" stroke="#000" stroke-width="1.3" stroke-linejoin="round"/>
<rect x="589.25" y="332.75" width="6.50" height="6.50" fill="#ff2a10" stroke="#000" stroke-width="1.3" stroke-linejoin="round"/>
<rect x="612.45" y="325.85" width="6.50" height="6.50" fill="#ff2a10" stroke="#000" stroke-width="1.3" stroke-linejoin="round"/>
<rect x="599.05" y="335.65" width="6.50" height="6.50" fill="#ff2a10" stroke="#000" stroke-width="1.3" stroke-linejoin="round"/>
<rect x="616.75" y="340.65" width="6.50" height="6.50" fill="#ff2a10" stroke="#000" stroke-width="1.3" stroke-linejoin="round"/>
<rect x="504.35" y="352.35" width="6.50" height="6.50" fill="#ff2a10" stroke="#000" stroke-width="1.3" stroke-linejoin="round"/>
<rect x="516.45" y="348.05" width="6.50" height="6.50" fill="#ff2a10" stroke="#000" stroke-width="1.3" stroke-linejoin="round"/>
<rect x="514.25" y="362.45" width="6.50" height="6.50" fill="#ff2a10" stroke="#000" stroke-width="1.3" stroke-linejoin="round"/>
<rect x="505.65" y="374.55" width="6.50" height="6.50" fill="#ff2a10" stroke="#000" stroke-width="1.3" stroke-linejoin="round"/>
<rect x="516.75" y="384.75" width="6.50" height="6.50" fill="#ff2a10" stroke="#000" stroke-width="1.3" stroke-linejoin="round"/>
<rect x="524.85" y="372.05" width="6.50" height="6.50" fill="#ff2a10" stroke="#000" stroke-width="1.3" stroke-linejoin="round"/>
<rect x="525.85" y="386.15" width="6.50" height="6.50" fill="#ff2a10" stroke="#000" stroke-width="1.3" stroke-linejoin="round"/>
<rect x="557.65" y="333.25" width="6.50" height="6.50" fill="#ff2a10" stroke="#000" stroke-width="1.3" stroke-linejoin="round"/>
<rect x="551.05" y="340.85" width="6.50" height="6.50" fill="#ff2a10" stroke="#000" stroke-width="1.3" stroke-linejoin="round"/>
<rect x="557.65" y="340.85" width="6.50" height="6.50" fill="#ff2a10" stroke="#000" stroke-width="1.3" stroke-linejoin="round"/>
<rect x="564.75" y="340.85" width="6.50" height="6.50" fill="#ff2a10" stroke="#000" stroke-width="1.3" stroke-linejoin="round"/>
<rect x="570.25" y="340.85" width="6.50" height="6.50" fill="#ff2a10" stroke="#000" stroke-width="1.3" stroke-linejoin="round"/>
<rect x="528.35" y="347.95" width="6.50" height="6.50" fill="#ff2a10" stroke="#000" stroke-width="1.3" stroke-linejoin="round"/>
<rect x="534.95" y="347.95" width="6.50" height="6.50" fill="#ff2a10" stroke="#000" stroke-width="1.3" stroke-linejoin="round"/>
<rect x="552.15" y="350.45" width="6.50" height="6.50" fill="#ff2a10" stroke="#000" stroke-width="1.3" stroke-linejoin="round"/>
<rect x="569.75" y="350.45" width="6.50" height="6.50" fill="#ff2a10" stroke="#000" stroke-width="1.3" stroke-linejoin="round"/>
<rect x="531.35" y="354.95" width="6.50" height="6.50" fill="#ff2a10" stroke="#000" stroke-width="1.3" stroke-linejoin="round"/>
<rect x="537.45" y="355.45" width="6.50" height="6.50" fill="#ff2a10" stroke="#000" stroke-width="1.3" stroke-linejoin="round"/>
<rect x="551.05" y="355.95" width="6.50" height="6.50" fill="#ff2a10" stroke="#000" stroke-width="1.3" stroke-linejoin="round"/>
<rect x="543.55" y="360.05" width="6.50" height="6.50" fill="#ff2a10" stroke="#000" stroke-width="1.3" stroke-linejoin="round"/>
<rect x="527.85" y="365.05" width="6.50" height="6.50" fill="#ff2a10" stroke="#000" stroke-width="1.3" stroke-linejoin="round"/>
<rect x="536.95" y="364.55" width="6.50" height="6.50" fill="#ff2a10" stroke="#000" stroke-width="1.3" stroke-linejoin="round"/>
<rect x="551.55" y="365.05" width="6.50" height="6.50" fill="#ff2a10" stroke="#000" stroke-width="1.3" stroke-linejoin="round"/>
<rect x="557.65" y="365.05" width="6.50" height="6.50" fill="#ff2a10" stroke="#000" stroke-width="1.3" stroke-linejoin="round"/>
<rect x="535.95" y="370.65" width="6.50" height="6.50" fill="#ff2a10" stroke="#000" stroke-width="1.3" stroke-linejoin="round"/>
<rect x="531.35" y="377.25" width="6.50" height="6.50" fill="#ff2a10" stroke="#000" stroke-width="1.3" stroke-linejoin="round"/>
<rect x="570.35" y="350.35" width="6.50" height="6.50" fill="#ff2a10" stroke="#000" stroke-width="1.3" stroke-linejoin="round"/>
<rect x="583.95" y="355.45" width="6.50" height="6.50" fill="#ff2a10" stroke="#000" stroke-width="1.3" stroke-linejoin="round"/>
<rect x="535.65" y="370.75" width="6.50" height="6.50" fill="#ff2a10" stroke="#000" stroke-width="1.3" stroke-linejoin="round"/>
<rect x="516.95" y="384.95" width="6.50" height="6.50" fill="#ff2a10" stroke="#000" stroke-width="1.3" stroke-linejoin="round"/>
<rect x="527.55" y="387.45" width="6.50" height="6.50" fill="#ff2a10" stroke="#000" stroke-width="1.3" stroke-linejoin="round"/>
<rect x="504.35" y="409.15" width="6.50" height="6.50" fill="#ff2a10" stroke="#000" stroke-width="1.3" stroke-linejoin="round"/>
<rect x="489.35" y="418.95" width="6.50" height="6.50" fill="#ff2a10" stroke="#000" stroke-width="1.3" stroke-linejoin="round"/>
<rect x="515.05" y="338.45" width="6.50" height="6.50" fill="#ff2a10" stroke="#000" stroke-width="1.3" stroke-linejoin="round"/>
<rect x="513.85" y="362.95" width="6.50" height="6.50" fill="#ff2a10" stroke="#000" stroke-width="1.3" stroke-linejoin="round"/>
<rect x="531.75" y="355.15" width="6.50" height="6.50" fill="#ff2a10" stroke="#000" stroke-width="1.3" stroke-linejoin="round"/>
<line x1="493.00" y1="375.10" x2="619.70" y2="326.10" stroke="#ff1a1a" stroke-width="1.5"/>
<rect x="455.45" y="483.35" width="6.30" height="6.30" fill="#0a0af5" stroke="#000" stroke-width="1.3" stroke-linejoin="round"/>
<text x="466.30" y="489.00" font-size="6.9" fill="#1a1a1a" text-anchor="start" textLength="67.60" lengthAdjust="spacingAndGlyphs">equal absolute value</text>
<rect x="538.95" y="483.35" width="6.30" height="6.30" fill="#ff2a10" stroke="#000" stroke-width="1.3" stroke-linejoin="round"/>
<text x="549.60" y="489.00" font-size="6.9" fill="#1a1a1a" text-anchor="start" textLength="64.00" lengthAdjust="spacingAndGlyphs">equal relative value</text>
</svg>
</body></html>
